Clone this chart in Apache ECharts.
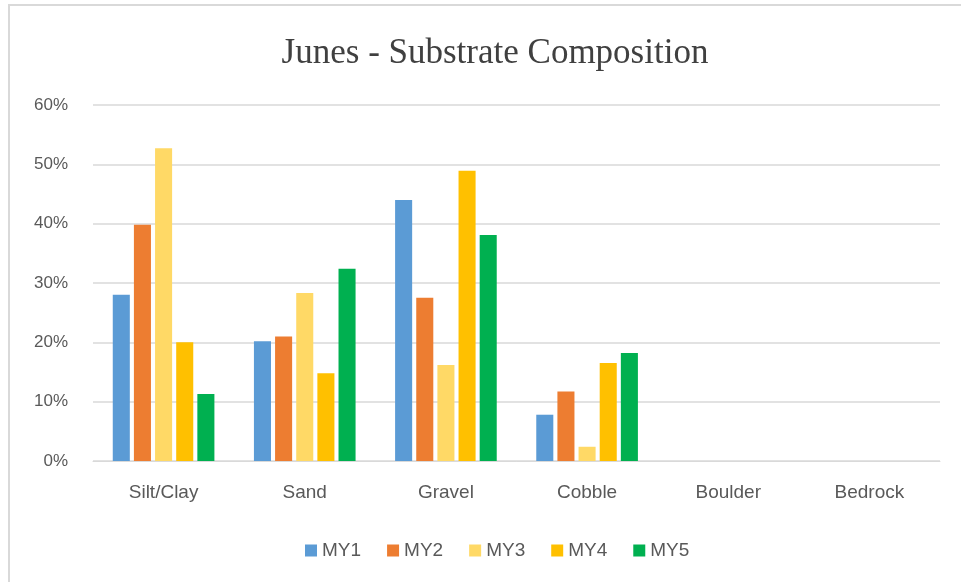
<!DOCTYPE html>
<html>
<head>
<meta charset="utf-8">
<script src="https://cdn.jsdelivr.net/npm/echarts@6/dist/echarts.min.js"></script>
<style>
html,body{margin:0;padding:0;background:#fff;}
#c{width:961px;height:582px;}
</style>
</head>
<body>
<div id="c"></div>
<script>
const categories = ['Silt/Clay', 'Sand', 'Gravel', 'Cobble', 'Boulder', 'Bedrock'];
const seriesNames = ['MY1', 'MY2', 'MY3', 'MY4', 'MY5'];
const MY1 = [28.0, 20.2, 44.0, 7.8, 0, 0];
const MY2 = [39.8, 21.0, 27.5, 11.7, 0, 0];
const MY3 = [52.7, 28.3, 16.2, 2.4, 0, 0];
const MY4 = [20.0, 14.8, 48.9, 16.5, 0, 0];
const MY5 = [11.3, 32.4, 38.1, 18.2, 0, 0];
const colors = ['#5B9BD5', '#ED7D31', '#FFD966', '#FFC000', '#00B050'];
const values = [MY1, MY2, MY3, MY4, MY5];

const chart = echarts.init(document.getElementById('c'));
chart.setOption({
  animation: false,
  backgroundColor: '#fff',
  color: colors,
  title: {
    text: 'Junes - Substrate Composition',
    left: 490, top: 31, textAlign: 'center',
    textStyle: { fontFamily: 'Liberation Serif', fontWeight: 'normal', fontSize: 35, color: '#404040' }
  },
  graphic: [{
    type: 'rect', shape: { x: 9, y: 5, width: 990, height: 620 },
    style: { fill: 'none', stroke: '#d9d9d9', lineWidth: 2 }, silent: true, z: -1
  }],
  legend: {
    data: seriesNames, left: 300, top: 536,
    itemWidth: 12, itemHeight: 12, itemGap: 26,
    icon: 'rect',
    textStyle: { fontFamily: 'Liberation Sans', fontSize: 19, color: '#595959' }
  },
  grid: { left: 93, right: 21, top: 105, bottom: 121 },
  xAxis: {
    type: 'category', data: categories,
    axisLine: { lineStyle: { color: '#d9d9d9' } },
    axisTick: { show: false },
    axisLabel: { margin: 22, fontFamily: 'Liberation Sans', fontSize: 19, color: '#595959' }
  },
  yAxis: {
    type: 'value', min: 0, max: 60, interval: 10,
    axisLine: { show: false }, axisTick: { show: false },
    splitLine: { lineStyle: { color: '#d9d9d9', width: 1.5 } },
    axisLabel: { margin: 25, formatter: '{value}%', fontFamily: 'Liberation Sans', fontSize: 17, color: '#595959' }
  },
  series: seriesNames.map((n, i) => ({
    name: n, type: 'bar', data: values[i],
    barGap: '24%', barCategoryGap: '28%',
    itemStyle: { color: colors[i] }
  }))
});
</script>
</body>
</html>
